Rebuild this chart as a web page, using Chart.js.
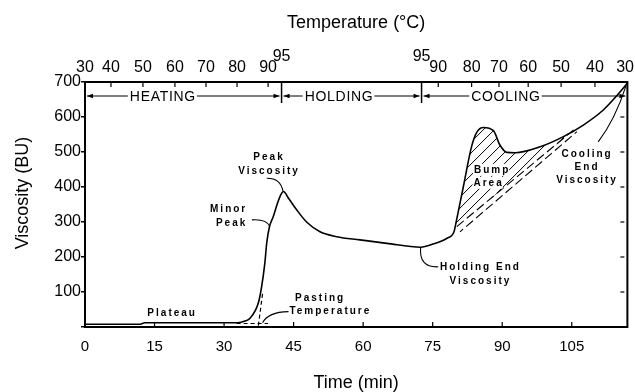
<!DOCTYPE html>
<html><head><meta charset="utf-8">
<script src="https://cdn.jsdelivr.net/npm/chart.js@4/dist/chart.umd.min.js"></script>
<style>html,body{margin:0;padding:0;background:#fff}</style>
</head><body>
<canvas id="c" width="635" height="392"></canvas>
<script>
// ---------- data ----------
const timeMin = [0, 11.9, 12.9, 24, 33, 34.5, 35.6, 37.4, 38.1, 38.8,
  39.2, 39.8, 40.6, 41.5, 42.2, 42.8, 43.9, 45.7, 47.8, 50.7,
  54.3, 59.3, 65.1, 72.4, 75.1, 78.0, 79.6, 80.0, 81.6, 83.4, 84.5,
  85.9, 88.1, 89.5, 91.0, 92.8, 98.2, 103.2, 107.5, 111.8, 116.1, 117];
const viscosityBU = [8, 8, 12, 12, 12, 17, 25, 69, 115, 183,
  240, 287, 315, 353, 377, 387, 368, 334, 300, 272,
  258, 249, 239, 228, 237, 253, 272, 296, 400, 516, 556,
  570, 561, 520, 499, 498, 515, 544, 577, 620, 682, 697];

// construction lines (time, viscosity)
const bumpBaseUpperT = [80.2, 105.4];
const bumpBaseUpperV = [287, 563];
const bumpBaseLowerT = [80.9, 106.1];
const bumpBaseLowerV = [272, 558];
const pastingBaseT = [32.7, 39.5];
const pastingBaseV = [10, 10];
const pastingTangentT = [37.4, 38.3];
const pastingTangentV = [4, 95];

// axes
const timeTicks = [0, 15, 30, 45, 60, 75, 90, 105];
const viscTicks = [0, 100, 200, 300, 400, 500, 600, 700];
const tempTickTimes = [0, 5.6, 12.5, 19.4, 26.1, 32.8, 39.5, 42.4, 72.6, 76.2, 83.4, 89.3, 95.6, 102.7, 110, 116.5];
const tempTickLabels = ['30','40','50','60','70','80','90','95','95','90','80','70','60','50','40','30'];

// phases
const phaseNames = ['HEATING', 'HOLDING', 'COOLING'];
const phaseEdges = [0, 42.4, 72.6, 117];

// bump region = curve indices
const bumpFirstIdx = 26, bumpLastIdx = 37;

// ---------- annotation layout (data units) ----------
const phaseLayout = { centers: [16.8, 54.8, 90.8], arrowV: 660, dividerTop: 700, dividerBottom: 640 };
const notes = [
  { text: 'Peak', t: 39.7, v: 486, align: 'center' },
  { text: 'Viscosity', t: 39.7, v: 446, align: 'center' },
  { text: 'Minor', t: 35.0, v: 337, align: 'right' },
  { text: 'Peak', t: 35.0, v: 297, align: 'right' },
  { text: 'Plateau', t: 18.8, v: 39, align: 'center' },
  { text: 'Pasting', t: 45.3, v: 82, align: 'left' },
  { text: 'Temperature', t: 44.1, v: 44, align: 'left' },
  { text: 'Holding End', t: 85.3, v: 172, align: 'center' },
  { text: 'Viscosity', t: 85.3, v: 132, align: 'center' },
  { text: 'Bump', t: 83.9, v: 449, align: 'left', bg: true },
  { text: 'Area', t: 83.8, v: 412, align: 'left', bg: true },
  { text: 'Cooling', t: 108.3, v: 494, align: 'center' },
  { text: 'End', t: 108.3, v: 456, align: 'center' },
  { text: 'Viscosity', t: 108.3, v: 418, align: 'center' }
];
const leaders = [
  [[39.2, 425], [42.1, 426], [42.7, 389]],
  [[36.0, 306], [39.1, 309], [39.9, 287]],
  [[43.9, 44], [39.5, 43], [38.3, 12]],
  [[72.4, 228], [72.0, 169], [76.2, 172]],
  [[110.7, 529], [114.3, 591], [116.7, 689]]
];

const FONT = '"Liberation Sans", Arial, Helvetica, sans-serif';
const pts = (ts, vs) => ts.map((t, i) => ({ x: t, y: vs[i] }));

const decor = {
  id: 'decor',
  afterDraw(chart) {
    const ctx = chart.ctx, a = chart.chartArea;
    const xS = chart.scales.x, yS = chart.scales.y;
    const X = t => xS.getPixelForValue(t), Y = v => yS.getPixelForValue(v);
    ctx.save();
    ctx.strokeStyle = '#000'; ctx.fillStyle = '#000';

    // right frame + inward ticks
    ctx.lineWidth = 2;
    ctx.beginPath(); ctx.moveTo(a.right, a.top - 1); ctx.lineTo(a.right, a.bottom + 1); ctx.stroke();
    ctx.lineWidth = 1.2;
    viscTicks.forEach(v => { if (v > 0 && v < 700) { ctx.beginPath(); ctx.moveTo(a.right - 7, Y(v)); ctx.lineTo(a.right - 3, Y(v)); ctx.stroke(); } });
    // bottom inward ticks
    timeTicks.forEach(t => { if (t > 0) { ctx.beginPath(); ctx.moveTo(X(t), a.bottom); ctx.lineTo(X(t), a.bottom - 5); ctx.stroke(); } });
    // top inward ticks
    tempTickTimes.forEach((t, i) => { if (t > 0 && t < 116 && tempTickLabels[i] !== '95') { ctx.beginPath(); ctx.moveTo(X(t), a.top); ctx.lineTo(X(t), a.top + 5); ctx.stroke(); } });

    // hatched bump area
    const meta = chart.getDatasetMeta(0);
    const p = meta.data;
    ctx.save();
    ctx.beginPath();
    ctx.moveTo(p[bumpFirstIdx].x, p[bumpFirstIdx].y);
    for (let i = bumpFirstIdx + 1; i <= bumpLastIdx; i++) {
      const a0 = p[i - 1], b0 = p[i];
      if (a0.cp2x !== undefined && b0.cp1x !== undefined) ctx.bezierCurveTo(a0.cp2x, a0.cp2y, b0.cp1x, b0.cp1y, b0.x, b0.y);
      else ctx.lineTo(b0.x, b0.y);
    }
    ctx.lineTo(X(bumpBaseUpperT[1]), Y(bumpBaseUpperV[1]));
    ctx.lineTo(X(bumpBaseUpperT[0]), Y(bumpBaseUpperV[0]));
    ctx.closePath();
    ctx.clip();
    ctx.lineWidth = 1;
    const x0 = X(78), x1 = X(108), yb = Y(250), H = 260;
    for (let x = x0 - H; x < x1; x += 11) {
      ctx.beginPath(); ctx.moveTo(x, yb); ctx.lineTo(x + H, yb - H); ctx.stroke();
    }
    ctx.restore();

    // phase row
    ctx.lineWidth = 1;
    ctx.font = '14px ' + FONT;
    try { ctx.letterSpacing = '0.7px'; } catch (e) {}
    ctx.textAlign = 'center'; ctx.textBaseline = 'middle';
    const ya = Y(phaseLayout.arrowV);
    const head = (x, dir) => { ctx.beginPath(); ctx.moveTo(x, ya); ctx.lineTo(x - dir * 6, ya - 2.2); ctx.lineTo(x - dir * 6, ya + 2.2); ctx.closePath(); ctx.fill(); };
    phaseNames.forEach((name, i) => {
      const xc = X(phaseLayout.centers[i]);
      const w = ctx.measureText(name).width;
      ctx.fillText(name, xc, ya + 1);
      const l = X(phaseEdges[i]) + 2, r = X(phaseEdges[i + 1]) - 2;
      ctx.beginPath(); ctx.moveTo(l, ya); ctx.lineTo(xc - w / 2 - 2, ya); ctx.moveTo(xc + w / 2 + 1, ya); ctx.lineTo(r, ya); ctx.stroke();
      head(l, -1); head(r, 1);
    });
    ctx.lineWidth = 1.5;
    [phaseEdges[1], phaseEdges[2]].forEach(t => { ctx.beginPath(); ctx.moveTo(X(t), Y(phaseLayout.dividerTop)); ctx.lineTo(X(t), Y(phaseLayout.dividerBottom)); ctx.stroke(); });

    // leaders
    ctx.lineWidth = 1.1;
    leaders.forEach(L => {
      ctx.beginPath(); ctx.moveTo(X(L[0][0]), Y(L[0][1]));
      ctx.quadraticCurveTo(X(L[1][0]), Y(L[1][1]), X(L[2][0]), Y(L[2][1])); ctx.stroke();
    });

    // notes
    ctx.font = 'bold 10px ' + FONT;
    try { ctx.letterSpacing = '2px'; } catch (e) {}
    ctx.textBaseline = 'middle';
    notes.forEach(n => {
      ctx.textAlign = n.align;
      const x = X(n.t), y = Y(n.v);
      if (n.bg) {
        const w = ctx.measureText(n.text).width;
        const lx = n.align === 'left' ? x : (n.align === 'right' ? x - w : x - w / 2);
        ctx.fillStyle = '#fff'; ctx.fillRect(lx - 1, y - 6, w, 12); ctx.fillStyle = '#000';
      }
      ctx.fillText(n.text, x, y);
    });

    // y axis title
    try { ctx.letterSpacing = '0px'; } catch (e) {}
    ctx.font = '18px ' + FONT;
    ctx.translate(23, 193); ctx.rotate(-Math.PI / 2);
    ctx.textAlign = 'center'; ctx.fillText('Viscosity (BU)', 0, 0);
    ctx.restore();
  }
};

new Chart(document.getElementById('c'), {
  type: 'line',
  data: {
    datasets: [
      { data: pts(timeMin, viscosityBU), borderColor: '#000', borderWidth: 1.6, pointRadius: 0, cubicInterpolationMode: 'monotone', fill: false },
      { data: pts(bumpBaseUpperT, bumpBaseUpperV), borderColor: '#000', borderWidth: 1.1, borderDash: [9, 4], pointRadius: 0, fill: false },
      { data: pts(bumpBaseLowerT, bumpBaseLowerV), borderColor: '#000', borderWidth: 1.1, borderDash: [9, 4], borderDashOffset: 5, pointRadius: 0, fill: false },
      { data: pts(pastingBaseT, pastingBaseV), borderColor: '#000', borderWidth: 1.2, borderDash: [4, 3], pointRadius: 0, fill: false },
      { data: pts(pastingTangentT, pastingTangentV), borderColor: '#000', borderWidth: 1.2, borderDash: [4, 3], pointRadius: 0, fill: false }
    ]
  },
  options: {
    responsive: false, animation: false, devicePixelRatio: 1,
    layout: { padding: { left: 0, right: 7, top: 0, bottom: 0 } },
    plugins: { legend: { display: false }, tooltip: { enabled: false } },
    scales: {
      x: {
        type: 'linear', position: 'bottom', min: 0, max: 117,
        afterBuildTicks: s => { s.ticks = timeTicks.map(v => ({ value: v })); },
        afterFit: s => { s.height = 65; },
        grid: { display: false },
        border: { display: true, color: '#000', width: 2 },
        ticks: { autoSkip: false, maxRotation: 0, color: '#000', padding: 3, font: { family: FONT, size: 15 } },
        title: { display: true, text: 'Time (min)', color: '#000', font: { family: FONT, size: 18, lineHeight: 1 }, padding: { top: 0, bottom: 0 } }
      },
      xTop: {
        type: 'linear', position: 'top', min: 0, max: 117,
        afterBuildTicks: s => { s.ticks = tempTickTimes.map(v => ({ value: v })); },
        afterFit: s => { s.height = 82; },
        grid: { display: false },
        border: { display: true, color: '#000', width: 2 },
        ticks: {
          autoSkip: false, maxRotation: 0, minRotation: 0, color: '#000', padding: 1,
          font: { family: FONT, size: 16, lineHeight: 0.7 },
          callback: (v, i) => tempTickLabels[i] === '95' ? ['95', ''] : tempTickLabels[i]
        },
        title: { display: true, text: 'Temperature (°C)', color: '#000', font: { family: FONT, size: 18, lineHeight: 1 }, padding: { top: 14, bottom: 0 } }
      },
      y: {
        type: 'linear', position: 'left', min: 0, max: 700,
        afterBuildTicks: s => { s.ticks = viscTicks.map(v => ({ value: v })); },
        afterFit: s => { s.width = 85; },
        grid: { display: true, drawOnChartArea: false, drawTicks: true, tickLength: 4, color: '#000', lineWidth: 1.5 },
        border: { display: true, color: '#000', width: 2 },
        ticks: { color: '#000', padding: 0, font: { family: FONT, size: 16 }, callback: v => v === 0 ? '' : String(v) }
      }
    }
  },
  plugins: [decor]
});
</script>
</body></html>
